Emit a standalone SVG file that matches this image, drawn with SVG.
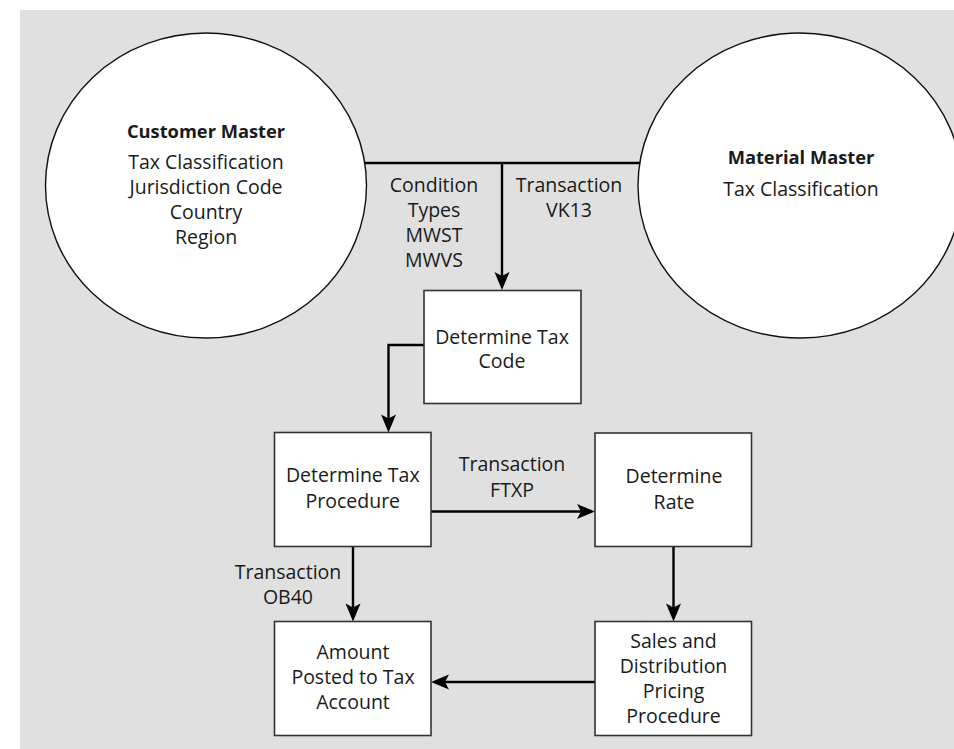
<svg xmlns="http://www.w3.org/2000/svg" width="954" height="749" viewBox="0 0 954 749">
<defs>
<style>
.bg{fill:#e0e0e0}
.circ{fill:#fff;stroke:#111;stroke-width:1.4}
.box{fill:#fff;stroke:#333;stroke-width:1.6}
.t{font-family:"Open Sans","Liberation Sans",sans-serif;font-size:19.5px;fill:#1a1a1a;text-anchor:middle}
.b{font-weight:bold;font-size:18.3px}
.c{fill:none;stroke:#000;stroke-width:2.4}
.ca{fill:none;stroke:#000;stroke-width:2.4;marker-end:url(#ah)}
</style>
<marker id="ah" viewBox="-10 -9 22 18" markerWidth="22" markerHeight="18" refX="0" refY="0" markerUnits="userSpaceOnUse" orient="auto" overflow="visible">
<path d="M10,0 L-8,-7.5 L-4,0 L-8,7.5 Z" fill="#000"/>
</marker>
</defs>
<rect class="bg" x="20" y="10" width="934" height="739"/>
<g id="connectors">
<path class="c" d="M360,163 H645"/>
<path class="ca" d="M502,163 V280"/>
<path class="ca" d="M424,345 H388.5 V422.5"/>
<path class="ca" d="M431,511.5 H585"/>
<path class="ca" d="M353,546.5 V611.5"/>
<path class="ca" d="M673.5,546.5 V611.5"/>
<path class="ca" d="M595,682 H441"/>
</g>
<g id="customer-master">
<ellipse class="circ" cx="206" cy="185.5" rx="160.5" ry="152.5"/>
<text class="t b" x="206" y="138">Customer Master</text>
<text class="t" x="206" y="168.5">Tax Classification</text>
<text class="t" x="206" y="193.5">Jurisdiction Code</text>
<text class="t" x="206" y="218.5">Country</text>
<text class="t" x="206" y="243.5">Region</text>
</g>
<g id="material-master">
<ellipse class="circ" cx="800" cy="185.5" rx="162" ry="152.5"/>
<text class="t b" x="801" y="164">Material Master</text>
<text class="t" x="801" y="195.5">Tax Classification</text>
</g>
<g id="label-condition-types">
<text class="t" x="434" y="192">Condition</text>
<text class="t" x="434" y="217">Types</text>
<text class="t" x="434" y="242">MWST</text>
<text class="t" x="434" y="267">MWVS</text>
</g>
<g id="label-vk13">
<text class="t" x="569" y="192">Transaction</text>
<text class="t" x="569" y="217">VK13</text>
</g>
<g id="determine-tax-code">
<rect class="box" x="424" y="290.5" width="157" height="113"/>
<text class="t" x="502" y="343.5">Determine Tax</text>
<text class="t" x="502" y="368">Code</text>
</g>
<g id="determine-tax-procedure">
<rect class="box" x="274.5" y="432.5" width="156.5" height="114"/>
<text class="t" x="352.8" y="482">Determine Tax</text>
<text class="t" x="352.8" y="508">Procedure</text>
</g>
<g id="label-ftxp">
<text class="t" x="512" y="471">Transaction</text>
<text class="t" x="512" y="497">FTXP</text>
</g>
<g id="determine-rate">
<rect class="box" x="595" y="433" width="156.5" height="113.5"/>
<text class="t" x="674" y="483">Determine</text>
<text class="t" x="674" y="508.5">Rate</text>
</g>
<g id="label-ob40">
<text class="t" x="288" y="579">Transaction</text>
<text class="t" x="288" y="604">OB40</text>
</g>
<g id="amount-posted">
<rect class="box" x="274.5" y="621.5" width="156.5" height="114"/>
<text class="t" x="353" y="659">Amount</text>
<text class="t" x="353" y="683.5">Posted to Tax</text>
<text class="t" x="353" y="709">Account</text>
</g>
<g id="sd-pricing-procedure">
<rect class="box" x="595" y="621.5" width="156.5" height="114"/>
<text class="t" x="673.5" y="648">Sales and</text>
<text class="t" x="673.5" y="672.5">Distribution</text>
<text class="t" x="673.5" y="697.5">Pricing</text>
<text class="t" x="673.5" y="723">Procedure</text>
</g>
</svg>
